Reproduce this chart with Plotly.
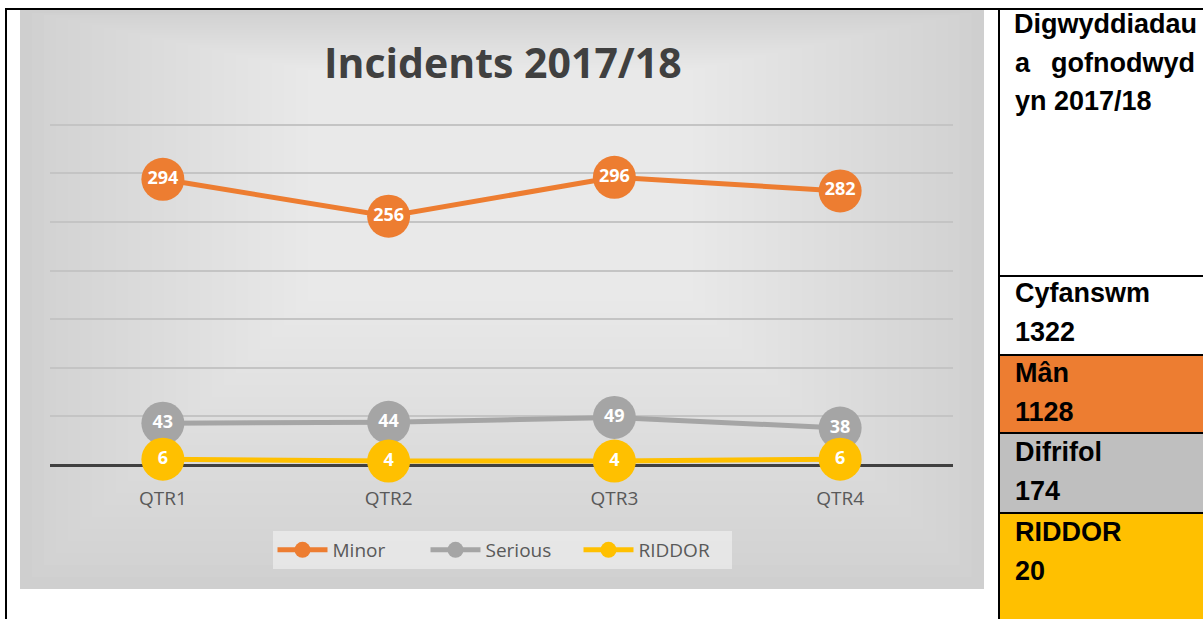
import plotly.graph_objects as go

W, H = 1203, 619

quarters = ["QTR1", "QTR2", "QTR3", "QTR4"]
minor = [294, 256, 296, 282]
serious = [43, 44, 49, 38]
riddor = [6, 4, 4, 6]

side_title = ["Digwyddiadau", "yn 2017/18"]
side_labels = ["Cyfanswm", "Mân", "Difrifol", "RIDDOR"]
side_totals = [1322, 1128, 174, 20]
side_fills = ["white", "#ED7D31", "#BFBFBF", "#FFC000"]


def px(x):
    return x / W


def py(y):
    return 1 - y / H


fig = go.Figure()

series = [
    ("Minor", minor, "#ED7D31"),
    ("Serious", serious, "#A5A5A5"),
    ("RIDDOR", riddor, "#FFC000"),
]
for name, vals, col in series:
    fig.add_trace(go.Scatter(
        x=quarters, y=vals, name=name, mode="lines+markers+text",
        line=dict(color=col, width=5),
        marker=dict(color=col, size=43),
        text=[str(v) for v in vals], textposition="middle center",
        textfont=dict(family="Open Sans", size=18, color="white", weight="bold"),
        cliponaxis=False,
    ))

shapes = []
# chart background: grey with a soft light area near the top
shapes.append(dict(type="rect", xref="paper", yref="paper", layer="below",
                   x0=px(20), x1=px(984), y0=py(589), y1=py(10),
                   fillcolor="#cdcdcd", line=dict(width=0)))
n = 40
cx, cy = 500, 110
for i in range(n):
    s = 1 - i / n
    shapes.append(dict(type="rect", xref="paper", yref="paper", layer="below",
                       x0=px(cx - 480 * s), x1=px(cx + 484 * s),
                       y0=py(cy + 479 * s), y1=py(cy - 100 * s),
                       fillcolor="rgba(255,255,255,0.045)", line=dict(width=0)))

# right-hand table
rows = [276, 355, 433, 513, 619]
for i, fc in enumerate(side_fills):
    shapes.append(dict(type="rect", xref="paper", yref="paper", layer="below",
                       x0=px(1000), x1=1, y0=py(rows[i + 1]), y1=py(rows[i]),
                       fillcolor=fc, line=dict(width=0)))
border = dict(color="black", width=2)
shapes.append(dict(type="line", xref="paper", yref="paper", x0=px(6), x1=px(6), y0=0, y1=py(9), line=border))
shapes.append(dict(type="line", xref="paper", yref="paper", x0=px(5), x1=1, y0=py(9), y1=py(9), line=border))
shapes.append(dict(type="line", xref="paper", yref="paper", x0=px(999), x1=px(999), y0=0, y1=py(9), line=border))
for r in rows[:-1]:
    shapes.append(dict(type="line", xref="paper", yref="paper", x0=px(999), x1=1, y0=py(r), y1=py(r), line=border))

side_font = dict(family="Liberation Sans", size=27, color="black", weight="bold")
annotations = [
    dict(text="Incidents 2017/18", x=px(503), y=py(62),
         font=dict(family="Open Sans", size=41, color="#404040", weight="bold")),
    dict(text=side_title[0], x=px(1012), y=py(24), xanchor="left", font=side_font),
    dict(text="a", x=px(1013), y=py(63), xanchor="left", font=side_font),
    dict(text="gofnodwyd", x=px(1197), y=py(63), xanchor="right", font=side_font),
    dict(text=side_title[1], x=px(1013), y=py(101), xanchor="left", font=side_font),
]
label_y = [293, 373, 452, 532]
for lab, tot, yy in zip(side_labels, side_totals, label_y):
    annotations.append(dict(text=lab, x=px(1013), y=py(yy), xanchor="left", font=side_font))
    annotations.append(dict(text=str(tot), x=px(1013), y=py(yy + 39), xanchor="left", font=side_font))
for a in annotations:
    a.update(xref="paper", yref="paper", showarrow=False, yanchor="middle")

fig.update_layout(
    width=W, height=H,
    margin=dict(l=0, r=0, t=0, b=0),
    paper_bgcolor="white", plot_bgcolor="rgba(0,0,0,0)",
    shapes=shapes, annotations=annotations,
    showlegend=True,
    legend=dict(orientation="h", x=px(502), xanchor="center", y=py(550), yanchor="middle",
                bgcolor="rgba(238,238,238,0.7)", font=dict(family="Open Sans", size=19, color="#595959"),
                itemwidth=50, entrywidth=88),
    xaxis=dict(domain=[px(50), px(953)], range=[-0.5, 3.5], showgrid=False, zeroline=False,
               showline=False, ticks="", ticklabelstandoff=20,
               tickfont=dict(family="Open Sans", size=19, color="#595959")),
    yaxis=dict(domain=[py(465), py(120)], range=[0, 355], tickvals=[50, 100, 150, 200, 250, 300, 350],
               showticklabels=False,
               gridcolor="#c4c4c4", gridwidth=2, zeroline=True, zerolinecolor="#404040",
               zerolinewidth=3, showline=False, ticks=""),
)

fig.write_html("out.html", config={"displayModeBar": False},
               post_script="document.body.style.margin='0';")
